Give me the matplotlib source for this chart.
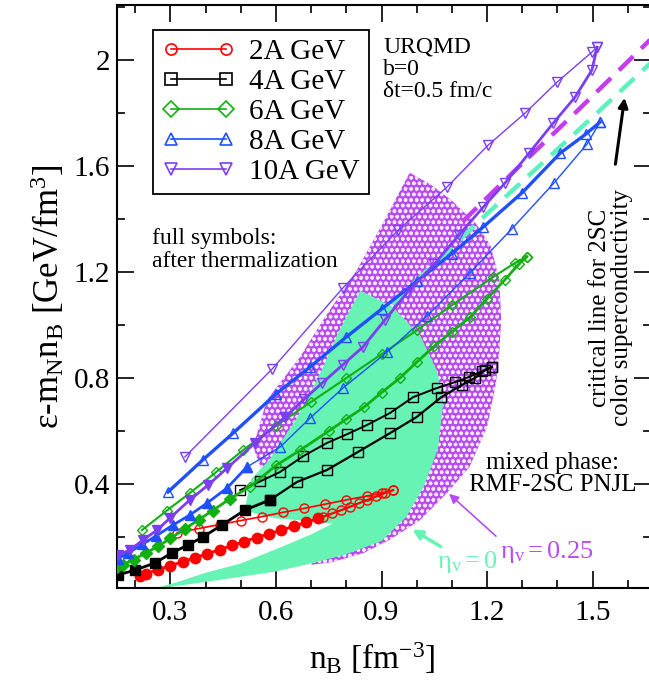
import matplotlib
matplotlib.use('Agg')
import matplotlib.pyplot as plt
from matplotlib.lines import Line2D
from matplotlib.ticker import MultipleLocator, FuncFormatter

plt.rcParams['font.family'] = ['Liberation Serif', 'DejaVu Serif']
plt.rcParams['mathtext.fontset'] = 'custom'
plt.rcParams['mathtext.rm'] = 'Liberation Serif'
plt.rcParams['mathtext.it'] = 'Liberation Serif:italic'
plt.rcParams['hatch.linewidth'] = 1.0

# ---- trajectories (nB [fm^-3], eps - mN nB [GeV/fm^3]) ----
# 2A GeV
red_up_x = [0.318, 0.38, 0.44, 0.50, 0.56, 0.62, 0.68, 0.74, 0.80, 0.86, 0.90, 0.933]
red_up_y = [0.215, 0.232, 0.247, 0.262, 0.277, 0.293, 0.308, 0.324, 0.340, 0.355, 0.366, 0.377]
red_down_x = [0.933, 0.91, 0.885, 0.86, 0.835, 0.81, 0.785, 0.76, 0.735, 0.72]
red_down_y = [0.377, 0.366, 0.353, 0.340, 0.327, 0.314, 0.301, 0.289, 0.277, 0.27]
red_full_x = [0.72, 0.685, 0.65, 0.615, 0.58, 0.545, 0.51, 0.475, 0.44, 0.405, 0.37, 0.335, 0.30, 0.265, 0.23, 0.213]
red_full_y = [0.27, 0.255, 0.24, 0.226, 0.212, 0.198, 0.183, 0.168, 0.152, 0.137, 0.122, 0.107, 0.092, 0.077, 0.062, 0.052]

# 4A GeV
black_up_x = [0.498, 0.555, 0.611, 0.677, 0.745, 0.802, 0.859, 0.924, 0.99, 1.057, 1.11, 1.15, 1.185, 1.214]
black_up_y = [0.377, 0.41, 0.445, 0.505, 0.555, 0.588, 0.623, 0.668, 0.728, 0.762, 0.785, 0.805, 0.825, 0.842]
black_down_x = [1.214, 1.195, 1.165, 1.13, 1.07, 1.0, 0.924, 0.833, 0.745, 0.66, 0.583]
black_down_y = [0.842, 0.83, 0.80, 0.775, 0.728, 0.653, 0.592, 0.521, 0.453, 0.408, 0.34]
black_full_x = [0.583, 0.512, 0.446, 0.392, 0.35, 0.304, 0.256, 0.199, 0.151]
black_full_y = [0.34, 0.302, 0.245, 0.20, 0.17, 0.14, 0.102, 0.075, 0.057]

# 6A GeV
green_up_x = [0.219, 0.29, 0.355, 0.43, 0.506, 0.60, 0.70, 0.80, 0.90, 1.00, 1.10, 1.217, 1.28, 1.313]
green_up_y = [0.226, 0.30, 0.366, 0.445, 0.528, 0.62, 0.71, 0.80, 0.89, 0.98, 1.075, 1.181, 1.235, 1.258]
green_down_x = [1.313, 1.29, 1.25, 1.20, 1.152, 1.10, 1.05, 1.00, 0.952, 0.90, 0.85, 0.80, 0.75, 0.669, 0.60, 0.526, 0.47]
green_down_y = [1.258, 1.23, 1.17, 1.10, 1.03, 0.975, 0.92, 0.86, 0.80, 0.745, 0.69, 0.645, 0.60, 0.528, 0.47, 0.39, 0.345]
green_full_x = [0.47, 0.42, 0.38, 0.34, 0.30, 0.265, 0.23, 0.195, 0.165, 0.148]
green_full_y = [0.345, 0.30, 0.265, 0.23, 0.195, 0.165, 0.14, 0.115, 0.095, 0.085]

# 8A GeV
blue_up_x = [0.293, 0.392, 0.478, 0.60, 0.697, 0.80, 0.90, 1.00, 1.10, 1.189, 1.30, 1.408, 1.48, 1.521]
blue_up_y = [0.37, 0.491, 0.592, 0.74, 0.842, 0.955, 1.06, 1.165, 1.27, 1.37, 1.50, 1.649, 1.72, 1.766]
blue_down_x = [1.521, 1.484, 1.39, 1.271, 1.152, 1.029, 0.915, 0.79, 0.697, 0.612, 0.517]
blue_down_y = [1.766, 1.683, 1.536, 1.364, 1.198, 1.034, 0.897, 0.762, 0.649, 0.54, 0.464]
blue_full_x = [0.517, 0.461, 0.404, 0.355, 0.307, 0.26, 0.22, 0.18, 0.15]
blue_full_y = [0.464, 0.385, 0.328, 0.283, 0.245, 0.205, 0.172, 0.14, 0.118]

# 10A GeV
violet_up_x = [0.341, 0.589, 0.790, 0.947, 1.086, 1.203, 1.308, 1.399, 1.498, 1.513]
violet_up_y = [0.502, 0.834, 1.140, 1.358, 1.521, 1.679, 1.800, 1.917, 2.030, 2.049]
violet_down_x = [1.513, 1.498, 1.45, 1.388, 1.32, 1.251, 1.189, 1.12, 1.05, 0.972, 0.91, 0.847, 0.79, 0.731, 0.68, 0.626]
violet_down_y = [2.049, 1.962, 1.86, 1.762, 1.65, 1.536, 1.445, 1.34, 1.23, 1.121, 1.02, 0.917, 0.85, 0.781, 0.72, 0.653]
violet_full_x = [0.626, 0.540, 0.461, 0.407, 0.355, 0.299, 0.262, 0.222, 0.185, 0.151]
violet_full_y = [0.653, 0.555, 0.460, 0.396, 0.340, 0.272, 0.226, 0.189, 0.151, 0.132]

# mixed phase regions
eta25_x = [0.98, 1.04, 1.10, 1.17, 1.21, 1.235, 1.24, 1.235, 1.225, 1.20, 1.15, 1.086, 1.01, 0.924,
           0.85, 0.76, 0.70, 0.80, 0.62, 0.56, 0.535, 0.574, 0.668, 0.734, 0.83, 0.904]
eta25_y = [1.575, 1.53, 1.47, 1.38, 1.30, 1.17, 1.02, 0.90, 0.78, 0.615, 0.464, 0.366, 0.264, 0.19,
           0.14, 0.105, 0.095, 0.30, 0.42, 0.45, 0.54, 0.717, 0.879, 1.019, 1.208, 1.385]
eta0_x = [0.28, 0.45, 0.60, 0.70, 0.80, 0.90, 0.97, 1.02, 1.06, 1.075, 1.06, 1.01, 0.93, 0.84,
          0.78, 0.73, 0.66, 0.58, 0.53, 0.51, 0.60, 0.70, 0.76,
          0.70, 0.62, 0.50, 0.40, 0.32, 0.26]
eta0_y = [0.008, 0.04, 0.07, 0.10, 0.135, 0.185, 0.275, 0.39, 0.53, 0.70, 0.82, 0.96, 1.07, 1.13,
          0.98, 0.83, 0.65, 0.49, 0.42, 0.30, 0.27, 0.26, 0.25,
          0.21, 0.165, 0.10, 0.065, 0.03, 0.008]

# critical lines for 2SC
crit25_x = [1.13, 1.30, 1.45, 1.67]
crit25_y = [1.39, 1.61, 1.80, 2.085]
crit0_x = [0.93, 1.20, 1.50, 1.67]
crit0_y = [1.08, 1.42, 1.785, 1.995]

labels = ['2A GeV', '4A GeV', '6A GeV', '8A GeV', '10A GeV']
colors = ['#ff0000', '#000000', '#10b010', '#1f4fff', '#7b3ff2']
markers = ['o', 's', 'D', '^', 'v']
violet_reg = '#b84cf0'
mint = '#66f3b4'

fig = plt.figure(figsize=(6.49, 6.88), dpi=100)
ax = fig.add_axes([117 / 649, 100 / 688, 534 / 649, 583 / 688])


def frac(px, py):
    return ((px - 117) / 534, (588 - py) / 583)


ax.fill(eta25_x, eta25_y, facecolor=violet_reg, edgecolor='#f4e4fc', hatch='ooo', lw=0, zorder=1)
ax.fill(eta0_x, eta0_y, color=mint, lw=0, zorder=2)
ax.plot(crit25_x, crit25_y, color='#c43cf0', lw=3.2, dashes=(4.5, 2.5), zorder=3)
ax.plot(crit0_x, crit0_y, color='#5ff0c0', lw=3.2, dashes=(4.5, 2.5), zorder=3)

series = [
    (red_up_x, red_up_y, 1.2, red_down_x, red_down_y, 1.6, red_full_x, red_full_y),
    (black_up_x, black_up_y, 1.4, black_down_x, black_down_y, 1.6, black_full_x, black_full_y),
    (green_up_x, green_up_y, 1.5, green_down_x, green_down_y, 2.0, green_full_x, green_full_y),
    (blue_up_x, blue_up_y, 2.4, blue_down_x, blue_down_y, 1.0, blue_full_x, blue_full_y),
    (violet_up_x, violet_up_y, 1.0, violet_down_x, violet_down_y, 2.0, violet_full_x, violet_full_y),
]
for (ux, uy, ulw, dx, dy, dlw, fx, fy), c, m in zip(series, colors, markers):
    ms = 5 if m == 'D' else 6.5
    ax.plot(ux, uy, color=c, lw=ulw, marker=m, mfc='none', ms=ms, mew=1.0, zorder=5)
    ax.plot(dx, dy, color=c, lw=dlw, marker=m, mfc='none', ms=ms, mew=1.0, zorder=5)
    ax.plot(fx, fy, color=c, lw=2.0, marker=m, mfc=c, mec=c, ms=ms + 1, zorder=6)

ax.set_xlim(0.148, 1.666)
ax.set_ylim(0.0075, 2.208)
ax.xaxis.set_major_locator(MultipleLocator(0.3))
ax.xaxis.set_minor_locator(MultipleLocator(0.1))
ax.yaxis.set_major_locator(MultipleLocator(0.4))
ax.yaxis.set_minor_locator(MultipleLocator(0.2))
ax.yaxis.set_major_formatter(FuncFormatter(lambda v, p: '%g' % round(v, 2)))
ax.xaxis.set_major_formatter(FuncFormatter(lambda v, p: '%g' % round(v, 2)))
ax.tick_params(which='both', direction='in', top=True, right=True, width=1.2, labelsize=21)
ax.tick_params(which='major', length=12)
ax.tick_params(which='minor', length=6)
ax.tick_params(axis='x', pad=9)
ax.tick_params(axis='y', pad=5)
for s in ax.spines.values():
    s.set_linewidth(1.5)

ax.set_xlabel(r'$\mathrm{n_B\ [fm^{-3}]}$', fontsize=24)
ax.xaxis.set_label_coords(0.4775, -0.09)
ax.set_ylabel(r'$\mathrm{ε}$-$\mathrm{m_N n_B\ [GeV/fm^3]}$', fontsize=25)
ax.yaxis.set_label_coords(-0.094, 0.5)

handles = [Line2D([0], [0], color=c, lw=1.2, marker=m, mfc='none', ms=8, mew=1.2)
           for c, m in zip(colors, markers)]
leg = ax.legend(handles, labels, loc='upper left', bbox_to_anchor=frac(153, 30), borderaxespad=0,
                fontsize=21, fancybox=False, edgecolor='black', framealpha=1, handlelength=2.5,
                handletextpad=0.5, labelspacing=0.12, borderpad=0.3, numpoints=2)
leg.get_frame().set_linewidth(1.3)
leg.set_zorder(10)

ax.text(*frac(383, 36), 'URQMD\nb=0\nδt=0.5 fm/c', transform=ax.transAxes, fontsize=17,
        ha='left', va='top', linespacing=1.1)
ax.text(*frac(152, 228), 'full symbols:\nafter thermalization', transform=ax.transAxes,
        fontsize=17, ha='left', va='top', linespacing=1.1)
ax.text(*frac(553, 474), 'mixed phase:\nRMF-2SC PNJL', transform=ax.transAxes, fontsize=18,
        ha='center', va='center', linespacing=1.05, zorder=8)
ax.text(*frac(611, 308), 'critical line for 2SC\ncolor superconductivity', transform=ax.transAxes,
        fontsize=18, ha='center', va='center', rotation=90, linespacing=1.05)
ax.text(*frac(437, 562), r'$\mathrm{η_v=0}$', transform=ax.transAxes, fontsize=19,
        color=mint, ha='left', va='center')
ax.text(*frac(500, 552), r'$\mathrm{η_v=0.25}$', transform=ax.transAxes, fontsize=19,
        color=violet_reg, ha='left', va='center')

ax.annotate('', xy=frac(447, 492), xytext=frac(498, 538), xycoords='axes fraction',
            arrowprops=dict(arrowstyle='-|>', color=violet_reg, lw=1.2, mutation_scale=14))
ax.annotate('', xy=frac(410, 528), xytext=frac(443, 548), xycoords='axes fraction',
            arrowprops=dict(arrowstyle='-|>', color=mint, lw=2.5, mutation_scale=14))
ax.annotate('', xy=frac(625, 95), xytext=frac(615, 167), xycoords='axes fraction',
            arrowprops=dict(arrowstyle='-|>', color='black', lw=2.2, mutation_scale=14))

fig.savefig('out.png', dpi=100)
